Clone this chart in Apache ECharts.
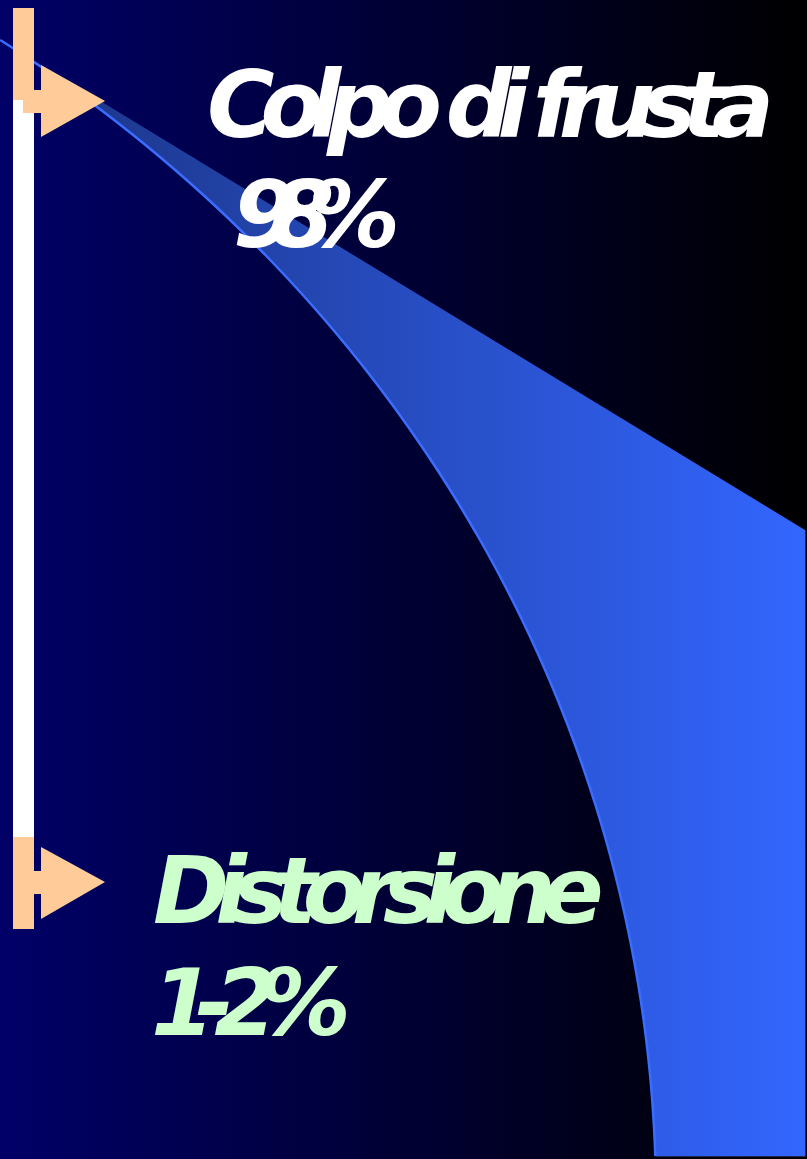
<!DOCTYPE html>
<html>
<head>
<meta charset="utf-8">
<style>
  html, body { margin: 0; padding: 0; background: #000; }
  #main { width: 807px; height: 1159px; }
</style>
<script src="https://cdn.jsdelivr.net/npm/echarts@6/dist/echarts.min.js"></script>
</head>
<body>
<div id="main"></div>
<script>
// Injury types and their share of cases
const categories = ['Colpo di frusta', 'Distorsione'];
const shares = ['98%', '1-2%'];

const W = 807, H = 1159;
const FONT_SIZE = 92;
const FONT = 'italic bold ' + FONT_SIZE + 'px "DejaVu Sans"';

// Lower edge of the decorative swoosh: an elliptical arc from the top-left corner down to the bottom
const ARC = { cx: -834, cy: 1200, rx: 1490, ry: 1400, yTop: 40, yBottom: 1157 };
function arcPoints(arc, step) {
  const pts = [];
  for (let y = arc.yTop; y <= arc.yBottom + 0.01; y += step) {
    const k = (arc.cy - y) / arc.ry;
    pts.push([arc.cx + arc.rx * Math.sqrt(1 - k * k), y]);
  }
  return pts;
}
const curve = arcPoints(ARC, 3);
const curveEnd = curve[curve.length - 1];
const swooshShape = curve.concat([[805, curveEnd[1]], [805, 530]]);

// Tightly spaced text, laid out one glyph at a time
const measure = document.createElement('canvas').getContext('2d');
measure.font = FONT;
measure.textBaseline = 'middle';
const mb = measure.measureText('H').alphabeticBaseline;
const midToBase = (typeof mb === 'number' && mb !== 0) ? Math.abs(mb) : FONT_SIZE * 0.35;

function spacedText(str, x, baseline, spacing, color) {
  const els = [];
  let cx = x;
  for (const ch of str) {
    if (ch !== ' ') {
      els.push({
        type: 'text', x: cx, y: baseline - midToBase, z: 10,
        style: { text: ch, font: FONT, fill: color, align: 'left', verticalAlign: 'middle' }
      });
    }
    cx += measure.measureText(ch).width + spacing;
  }
  return els;
}

const ORANGE = '#FFCC99';
const GREEN = '#CCFFCC';

const elements = [
  // background
  { type: 'rect', z: 0, shape: { x: 0, y: 0, width: W, height: H },
    style: { fill: new echarts.graphic.LinearGradient(0, 0, 1, 0, [
      { offset: 0, color: '#000068' }, { offset: 1, color: '#000000' }]) } },
  // swoosh
  { type: 'polygon', z: 1, shape: { points: swooshShape },
    style: { fill: new echarts.graphic.LinearGradient(0, 0, 1, 0, [
      { offset: 0, color: '#1a3280' }, { offset: 1, color: '#3366ff' }]) } },
  { type: 'polyline', z: 2, shape: { points: curve },
    style: { fill: null, stroke: '#3a6cff', lineWidth: 2.5 } },
  { type: 'polyline', z: 2, shape: { points: [[805.5, 530], [805.5, 1156.5], [curveEnd[0], 1156.5]] },
    style: { fill: null, stroke: '#1e2650', lineWidth: 1 } },
  // vertical bar of the list
  { type: 'rect', z: 3, shape: { x: 13, y: 100, width: 21, height: 737 }, style: { fill: '#ffffff' } },
  // first bullet
  { type: 'rect', z: 4, shape: { x: 13, y: 8, width: 21, height: 92 }, style: { fill: ORANGE } },
  { type: 'rect', z: 4, shape: { x: 23, y: 90, width: 18, height: 23 }, style: { fill: ORANGE } },
  { type: 'polygon', z: 4, shape: { points: [[41, 65], [105, 101], [41, 137]] }, style: { fill: ORANGE } },
  // second bullet
  { type: 'rect', z: 4, shape: { x: 13, y: 837, width: 21, height: 92 }, style: { fill: ORANGE } },
  { type: 'rect', z: 4, shape: { x: 30, y: 871, width: 11, height: 23 }, style: { fill: ORANGE } },
  { type: 'polygon', z: 4, shape: { points: [[41, 847], [105, 882], [41, 919]] }, style: { fill: ORANGE } }
];

const texts = []
  .concat(spacedText(categories[0], 207, 137, -14.1, '#ffffff'))
  .concat(spacedText(shares[0], 233, 247, -26.5, '#ffffff'))
  .concat(spacedText(categories[1], 153, 923, -14.2, GREEN))
  .concat(spacedText(shares[1], 151, 1035, -19.5, GREEN));

const chart = echarts.init(document.getElementById('main'), null, { renderer: 'canvas', width: W, height: H });
chart.setOption({
  animation: false,
  graphic: { elements: elements.concat(texts) }
});
</script>
</body>
</html>
